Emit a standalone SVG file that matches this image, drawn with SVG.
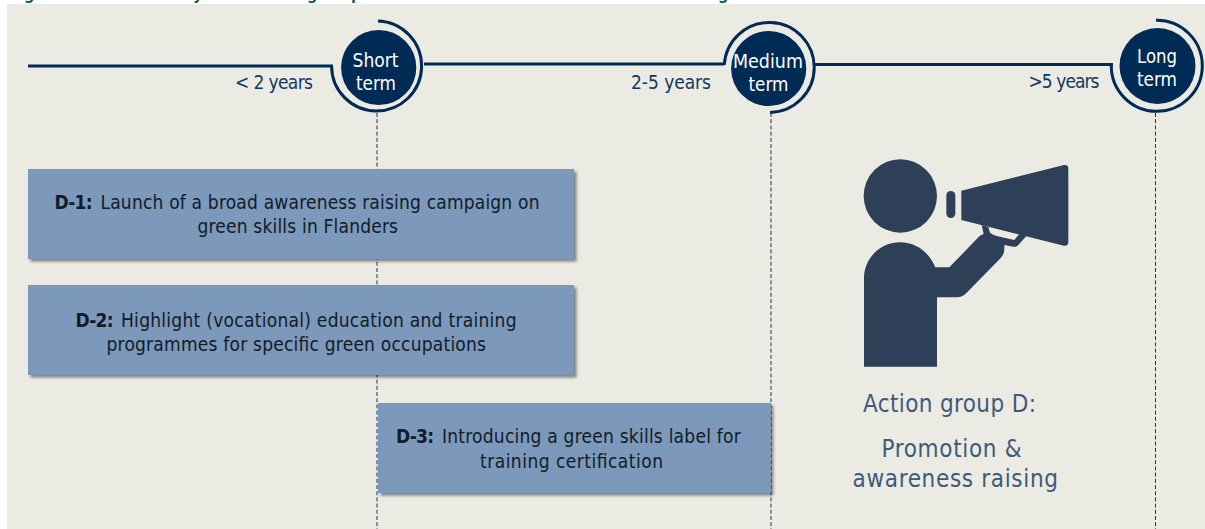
<svg xmlns="http://www.w3.org/2000/svg" width="1205" height="529" viewBox="0 0 1205 529">
<style>
text{font-family:"DejaVu Sans Condensed","DejaVu Sans","Liberation Sans",sans-serif}
.bar{fill:#7c98ba;filter:url(#sh)}
.dot{fill:#002b54}
.ring{fill:none;stroke:#002b54;stroke-width:3}
.line{fill:none;stroke:#002b54;stroke-width:3}
.dash{fill:none;stroke:#1c3558;stroke-width:1;stroke-dasharray:4 2.2}
.t{font-size:19px;fill:#111c28}
.b{font-weight:bold}
.w{font-size:19.500px;fill:#fff;text-anchor:middle}
.y{font-size:19px;fill:#123a5f}
.a{font-size:24px;fill:#3e5a7a}
.h{font-size:16px;font-weight:bold;fill:#0d5c6b}
</style>
<defs>
<filter id="sh" x="-5%" y="-10%" width="110%" height="125%">
<feDropShadow dx="2.5" dy="2.5" stdDeviation="1.5" flood-color="#000" flood-opacity=".45"/>
</filter>
</defs>
<rect width="1205" height="529" fill="#fff"/>
<g id="cut-heading">
<text class="h" x="24" y="0">g</text>
<text class="h" x="193" y="0">y</text>
<text class="h" x="307" y="0">g</text>
<text class="h" x="351" y="0">p</text>
<text class="h" x="718" y="0">g</text>
</g>
<rect x="7" y="4" width="1198" height="525" fill="#ebebe3"/>
<g id="connectors">
<path class="line" d="M28 66H333"/>
<path class="line" d="M424 64H724"/>
<path class="line" d="M814 64.500H1113"/>
<path class="dash" d="M377 113V529"/>
<path class="dash" d="M771 113V529"/>
<path class="dash" d="M1155.500 113V529"/>
</g>
<g id="short-term">
<path class="ring" d="M378 21A45 45 0 1 1 331.600 66"/>
<circle class="dot" cx="378.700" cy="67.500" r="37.600"/>
<text class="w" x="375.500" y="67" textLength="46" lengthAdjust="spacingAndGlyphs">Short</text>
<text class="w" x="376" y="90" textLength="40" lengthAdjust="spacingAndGlyphs">term</text>
<text class="y" x="235" y="89" textLength="78">&lt; 2 years</text>
</g>
<g id="medium-term">
<path class="ring" d="M724.300 65A45 45 0 1 1 770 112.400"/>
<circle class="dot" cx="768.700" cy="68.500" r="37.600"/>
<text class="w" x="768" y="68" textLength="70" lengthAdjust="spacingAndGlyphs">Medium</text>
<text class="w" x="768.500" y="91" textLength="40" lengthAdjust="spacingAndGlyphs">term</text>
<text class="y" x="631" y="89" textLength="80">2-5 years</text>
</g>
<g id="long-term">
<path class="ring" d="M1156 20.300A45.500 45.500 0 1 1 1111.300 65"/>
<circle class="dot" cx="1157.500" cy="66" r="38"/>
<text class="w" x="1157" y="63" textLength="40" lengthAdjust="spacingAndGlyphs">Long</text>
<text class="w" x="1157" y="86" textLength="40" lengthAdjust="spacingAndGlyphs">term</text>
<text class="y" x="1028.500" y="88" textLength="71">&gt;5 years</text>
</g>
<g id="d-1">
<rect class="bar" x="28" y="169" width="546" height="90"/>
<text class="t"><tspan class="b" x="54.500" y="209" textLength="38">D-1:</tspan><tspan x="100.500" y="209" textLength="439">Launch of a broad awareness raising campaign on</tspan></text>
<text class="t" x="197.500" y="233" textLength="200.500">green skills in Flanders</text>
</g>
<g id="d-2">
<rect class="bar" x="28" y="285" width="546" height="90"/>
<text class="t"><tspan class="b" x="75.500" y="326.500" textLength="38">D-2:</tspan><tspan x="121" y="326.500" textLength="395.500">Highlight (vocational) education and training</tspan></text>
<text class="t" x="106.500" y="350.500" textLength="379.500">programmes for specific green occupations</text>
</g>
<g id="d-3">
<rect class="bar" x="378" y="403" width="392.700" height="90"/>
<text class="t"><tspan class="b" x="396" y="443" textLength="38">D-3:</tspan><tspan x="442" y="443" textLength="298.700">Introducing a green skills label for</tspan></text>
<text class="t" x="480" y="467.500" textLength="183">training certification</text>
</g>
<g id="action-group-d">
<g transform="translate(830 150) scale(.33333)" fill="#2e4057">
<circle cx="211" cy="138" r="110"/>
<rect x="349" y="123" width="27" height="81" rx="13.500"/>
<path d="M394 122L702 45Q715 43 715 56V275Q715 289 702 287L394 210Z"/>
<path d="M102 650V385C102 325 150 277 210 277C258 277 298 307 316 352H358L448 259Q453 254 461 252L455 225L475 231L480 248Q490 256 503 259L553 270L568 252L589 258L565 285Q558 292 550 290L523 285V298Q523 314 510 326L410 428Q397 442 380 442H321V650Z"/>
</g>
<text class="a" x="863" y="411.500" textLength="173">Action group D:</text>
<text class="a" x="881.500" y="456.500" textLength="140">Promotion &amp;</text>
<text class="a" x="852.500" y="486.500" textLength="205.500">awareness raising</text>
</g>
</svg>
